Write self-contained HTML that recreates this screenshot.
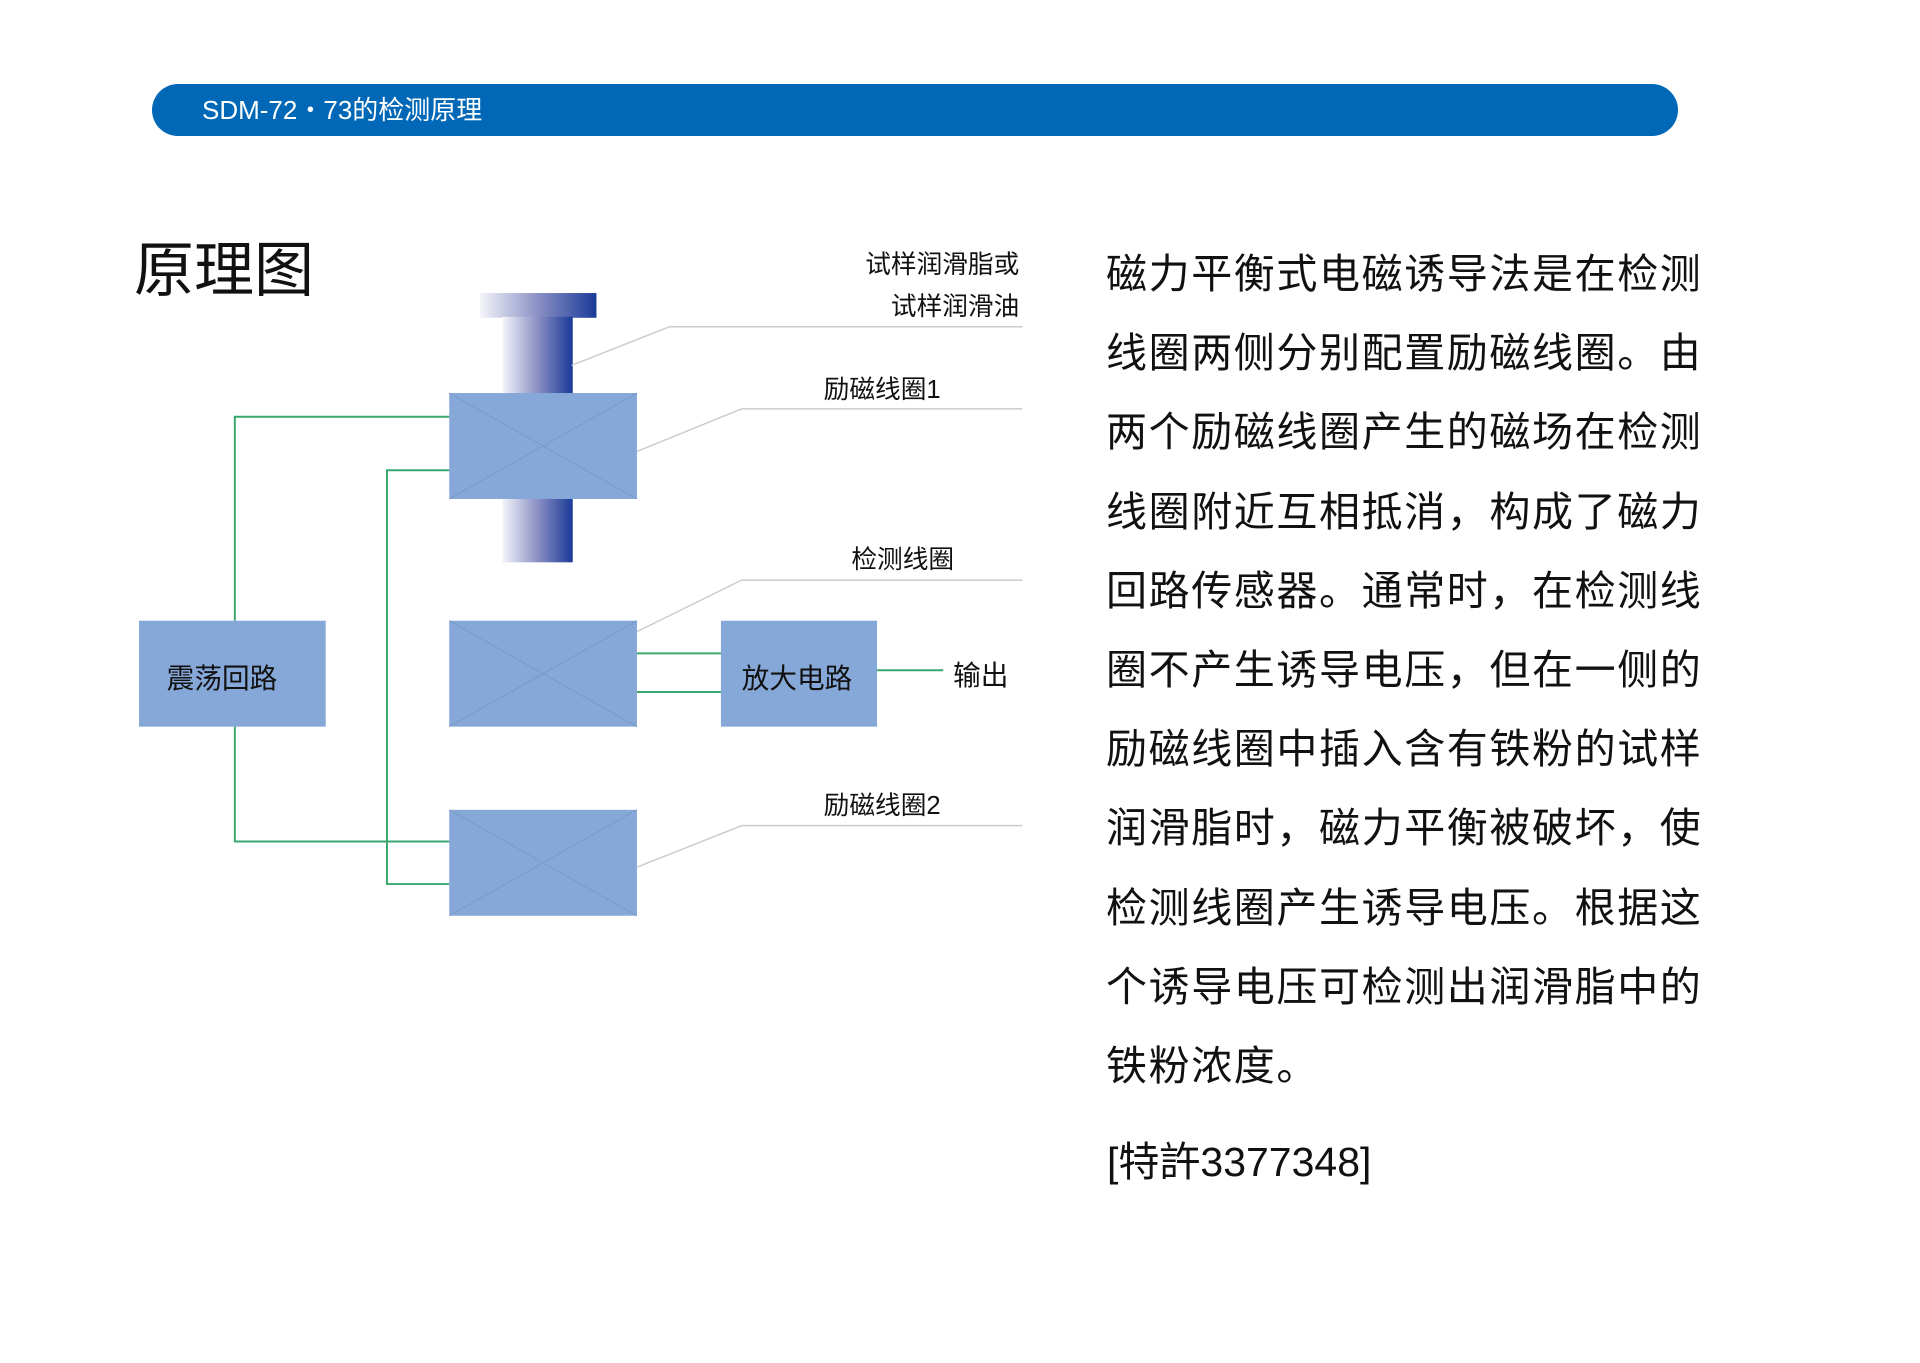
<!DOCTYPE html>
<html><head><meta charset="utf-8"><style>
html,body{margin:0;padding:0;background:#fff;}
body{width:1920px;height:1363px;position:relative;overflow:hidden;font-family:"Liberation Sans","Noto Sans CJK SC",sans-serif;color:#111;}
.banner{position:absolute;left:152px;top:84px;width:1526px;height:52px;background:#0068b7;border-radius:26px;}
.banner span{position:absolute;left:50px;top:10px;color:#fff;font-size:26px;line-height:32px;}
.title{position:absolute;left:134px;top:236px;font-size:60px;line-height:70px;}
.para{position:absolute;left:1106px;top:235px;width:640px;font-size:41px;line-height:79.2px;letter-spacing:1.6px;white-space:nowrap;}
.pat{position:absolute;left:1107px;top:1136px;font-size:41px;line-height:52px;}
svg text{font-family:"Liberation Sans","Noto Sans CJK SC",sans-serif;fill:#111;}
</style></head><body>
<div class="banner"><span>SDM-72・73的检测原理</span></div>
<div class="title">原理图</div>
<svg width="1920" height="1363" style="position:absolute;left:0;top:0">
<defs>
<linearGradient id="g" x1="0" x2="1" y1="0" y2="0">
<stop offset="0" stop-color="#f4f4fa"/><stop offset="0.5" stop-color="#8a90c4"/><stop offset="1" stop-color="#1a3a98"/>
</linearGradient>
</defs>
<g transform="translate(139,0) scale(0.988,0.99) translate(-139,0)">
<rect x="484" y="296" width="118" height="25" fill="url(#g)"/>
<rect x="507" y="320" width="71" height="80" fill="url(#g)"/>
<rect x="507" y="500" width="71" height="68" fill="url(#g)"/>
<g fill="#86a8d8">
<rect x="453" y="397" width="190" height="107"/>
<rect x="453" y="627" width="190" height="107"/>
<rect x="453" y="818" width="190" height="107"/>
<rect x="139" y="627" width="189" height="107"/>
<rect x="728" y="627" width="158" height="107"/>
</g>
<g stroke="#7a98c8" stroke-width="1">
<line x1="453" y1="397" x2="643" y2="504"/><line x1="643" y1="397" x2="453" y2="504"/>
<line x1="453" y1="627" x2="643" y2="734"/><line x1="643" y1="627" x2="453" y2="734"/>
<line x1="453" y1="818" x2="643" y2="925"/><line x1="643" y1="818" x2="453" y2="925"/>
</g>
<g stroke="#3aa76d" stroke-width="2" fill="none">
<polyline points="236,627 236,421 453,421"/>
<polyline points="236,734 236,850 453,850"/>
<polyline points="453,475 390,475 390,893 453,893"/>
<line x1="643" y1="660" x2="728" y2="660"/>
<line x1="643" y1="699" x2="728" y2="699"/>
<line x1="886" y1="677" x2="953" y2="677"/>
</g>
<g stroke="#cccccc" stroke-width="1.5" fill="none">
<polyline points="577,369 676,330 1033,330"/>
<polyline points="643,456 749,413 1033,413"/>
<polyline points="643,638 749,586 1033,586"/>
<polyline points="643,876 749,834 1033,834"/>
</g>
<g font-size="26">
<text x="1030" y="276" text-anchor="end">试样润滑脂或</text>
<text x="1030" y="318" text-anchor="end">试样润滑油</text>
<text x="832" y="402">励磁线圈1</text>
<text x="860" y="574">检测线圈</text>
<text x="832" y="822">励磁线圈2</text>
</g>
<g font-size="28">
<text x="167" y="695">震荡回路</text>
<text x="749" y="695">放大电路</text>
<text x="963" y="692">输出</text>
</g>
</g>
</svg>
<div class="para">磁力平衡式电磁诱导法是在检测<br>线圈两侧分别配置励磁线圈。由<br>两个励磁线圈产生的磁场在检测<br>线圈附近互相抵消，构成了磁力<br>回路传感器。通常时，在检测线<br>圈不产生诱导电压，但在一侧的<br>励磁线圈中插入含有铁粉的试样<br>润滑脂时，磁力平衡被破坏，使<br>检测线圈产生诱导电压。根据这<br>个诱导电压可检测出润滑脂中的<br>铁粉浓度。</div>
<div class="pat">[特許3377348]</div>
</body></html>
